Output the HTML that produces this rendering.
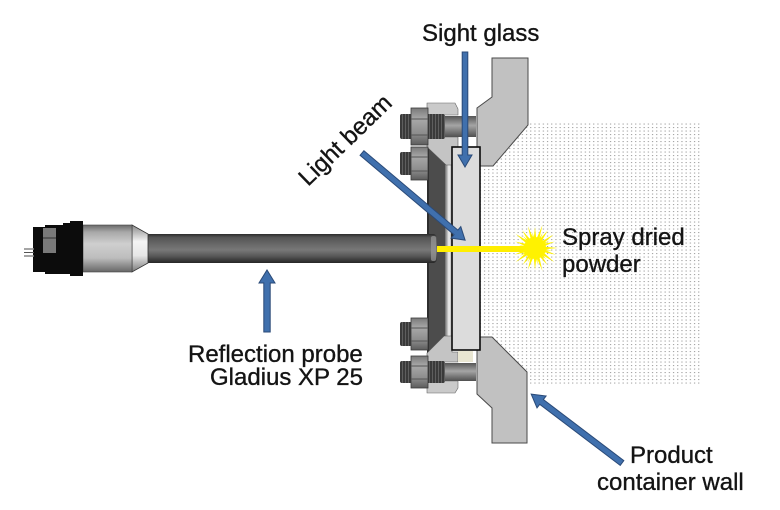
<!DOCTYPE html>
<html><head><meta charset="utf-8"><style>
html,body{margin:0;padding:0;background:#fff;}
svg{display:block;}
text{font-family:"Liberation Sans",sans-serif;font-size:24px;fill:#141414;stroke:#141414;stroke-width:0.35px;}
</style></head><body>
<svg width="780" height="510" viewBox="0 0 780 510" xmlns="http://www.w3.org/2000/svg">
<defs>
<pattern id="dots" x="0" y="0" width="4.2" height="3.5" patternUnits="userSpaceOnUse">
<rect x="1" y="1" width="1.1" height="1.1" fill="#9a9a9a"/>
</pattern>
<pattern id="thr" x="0" y="0" width="3" height="10" patternUnits="userSpaceOnUse">
<rect width="3" height="10" fill="#3a3a3a"/>
<rect width="1" height="10" fill="#5e5e5e"/>
</pattern>
<linearGradient id="rod" x1="0" y1="0" x2="0" y2="1">
<stop offset="0" stop-color="#2c2c2c"/><stop offset="0.12" stop-color="#555"/>
<stop offset="0.4" stop-color="#6c6c6c"/><stop offset="0.55" stop-color="#787878"/>
<stop offset="0.75" stop-color="#5a5a5a"/><stop offset="1" stop-color="#262626"/>
</linearGradient>
<linearGradient id="body" x1="0" y1="0" x2="0" y2="1">
<stop offset="0" stop-color="#6a6a6a"/><stop offset="0.15" stop-color="#a8a8a8"/>
<stop offset="0.4" stop-color="#cfcfcf"/><stop offset="0.7" stop-color="#bdbdbd"/>
<stop offset="1" stop-color="#666"/>
</linearGradient>
<linearGradient id="cone" x1="0" y1="0" x2="0" y2="1">
<stop offset="0" stop-color="#8a8a8a"/><stop offset="0.35" stop-color="#f4f4f4"/>
<stop offset="0.65" stop-color="#e6e6e6"/><stop offset="1" stop-color="#7a7a7a"/>
</linearGradient>
<linearGradient id="shaft" x1="0" y1="0" x2="0" y2="1">
<stop offset="0" stop-color="#555"/><stop offset="0.45" stop-color="#a5a5a5"/>
<stop offset="1" stop-color="#505050"/>
</linearGradient>
<linearGradient id="strip" x1="0" y1="0" x2="1" y2="0">
<stop offset="0" stop-color="#6a6a6a"/><stop offset="0.5" stop-color="#f2f2f2"/>
<stop offset="1" stop-color="#8a8a8a"/>
</linearGradient>
<linearGradient id="nut" x1="0" y1="0" x2="0" y2="1">
<stop offset="0" stop-color="#7a7a7a"/><stop offset="0.3" stop-color="#a8a8a8"/>
<stop offset="0.7" stop-color="#8c8c8c"/><stop offset="1" stop-color="#5c5c5c"/>
</linearGradient>
</defs>

<!-- powder dots region -->
<rect x="480" y="122" width="220" height="263" fill="url(#dots)"/>

<!-- container wall pieces -->
<polygon points="492,58 528,58 528,125 493,166 477,166 477,108 492,97" fill="#c1c1c1" stroke="#4a4a4a" stroke-width="1"/>
<polygon points="477,337 492,337 527,372 527,443 492,443 492,408 477,394" fill="#c1c1c1" stroke="#4a4a4a" stroke-width="1"/>

<!-- probe flange plate -->
<rect x="427" y="140" width="20" height="222" fill="#4c4c4c"/>
<rect x="427" y="140" width="2" height="222" fill="#2e2e2e"/>
<rect x="445" y="160" width="8" height="180" fill="url(#strip)"/>
<!-- top wedge -->
<polygon points="427,137 458,137 458,150 452,150 452,165 446,165 427,147" fill="#c4c4c4" stroke="#555" stroke-width="0.6"/>
<!-- bottom wedge -->
<polygon points="427,362 427,353 444,336 452,336 452,352 458,352 458,362" fill="#c4c4c4" stroke="#555" stroke-width="0.6"/>
<rect x="458" y="351" width="15" height="11" fill="#e9e6d2"/>

<!-- sight glass -->
<rect x="452" y="147" width="28" height="203" fill="#dcdcdc" stroke="#0a0a0a" stroke-width="1.6"/>

<!-- top block -->
<polygon points="427,103 455,103 458,109 458,115 427,115" fill="#cacaca" stroke="#666" stroke-width="0.6"/>
<!-- bottom block -->
<polygon points="427,381 458,381 458,388 455,393 427,393" fill="#cacaca" stroke="#666" stroke-width="0.6"/>

<!-- top bolt -->
<rect x="400" y="114" width="45" height="25" rx="2" fill="url(#thr)"/>
<rect x="445" y="116" width="31" height="21" fill="url(#shaft)"/>
<rect x="411" y="108" width="17" height="37" fill="url(#nut)" stroke="#3a3a3a" stroke-width="0.8"/>
<line x1="411" y1="119" x2="428" y2="119" stroke="#555" stroke-width="1"/>
<line x1="411" y1="135" x2="428" y2="135" stroke="#555" stroke-width="1"/>
<!-- upper short nut -->
<rect x="400" y="152" width="12" height="23" rx="2" fill="url(#thr)"/>
<rect x="411" y="147" width="17" height="33" fill="url(#nut)" stroke="#3a3a3a" stroke-width="0.8"/>
<line x1="411" y1="157" x2="428" y2="157" stroke="#555" stroke-width="1"/>
<line x1="411" y1="171" x2="428" y2="171" stroke="#555" stroke-width="1"/>
<!-- lower short nut -->
<rect x="400" y="322" width="12" height="24" rx="2" fill="url(#thr)"/>
<rect x="411" y="318" width="17" height="32" fill="url(#nut)" stroke="#3a3a3a" stroke-width="0.8"/>
<line x1="411" y1="328" x2="428" y2="328" stroke="#555" stroke-width="1"/>
<line x1="411" y1="341" x2="428" y2="341" stroke="#555" stroke-width="1"/>
<!-- lower bolt -->
<rect x="400" y="361" width="45" height="22" rx="2" fill="url(#thr)"/>
<rect x="445" y="363" width="31" height="18" fill="url(#shaft)"/>
<rect x="411" y="356" width="17" height="32" fill="url(#nut)" stroke="#3a3a3a" stroke-width="0.8"/>
<line x1="411" y1="366" x2="428" y2="366" stroke="#555" stroke-width="1"/>
<line x1="411" y1="379" x2="428" y2="379" stroke="#555" stroke-width="1"/>

<!-- probe -->
<rect x="146" y="234" width="288" height="29" fill="url(#rod)"/>
<rect x="428" y="234" width="9" height="29" rx="4" fill="url(#rod)"/>
<rect x="431" y="236" width="5" height="25" rx="2" fill="#9a9a9a" opacity="0.7"/>
<polygon points="132,225 148,234 148,263 132,272" fill="url(#cone)" stroke="#333" stroke-width="0.8"/>
<rect x="83" y="225" width="49" height="47" fill="url(#body)" stroke="#444" stroke-width="0.6"/>
<!-- connector -->
<polygon points="33,227 45,227 45,225 63,225 63,223 70,223 70,221 83,221 83,276 70,276 70,274 45,274 45,272 33,272" fill="#0c0c0c"/>
<rect x="43" y="228" width="13" height="25" fill="#7a7a7a"/>
<line x1="43" y1="238" x2="56" y2="238" stroke="#333" stroke-width="1"/>
<line x1="24" y1="249" x2="34" y2="249" stroke="#888" stroke-width="1.5"/>
<line x1="24" y1="256" x2="34" y2="256" stroke="#888" stroke-width="1.5"/>
<line x1="24" y1="252.5" x2="34" y2="252.5" stroke="#555" stroke-width="1"/>

<!-- light beam -->
<rect x="437" y="246" width="88" height="6" fill="#ffee00"/>
<g transform="translate(535,248)" fill="#fff200">
<circle r="11"/>
<polygon points="0,-2.3 23,0 0,2.3" transform="rotate(0)"/>
<polygon points="0,-2.3 22,0 0,2.3" transform="rotate(18)"/>
<polygon points="0,-2.3 24,0 0,2.3" transform="rotate(36)"/>
<polygon points="0,-2.3 21,0 0,2.3" transform="rotate(54)"/>
<polygon points="0,-2.3 24,0 0,2.3" transform="rotate(72)"/>
<polygon points="0,-2.3 22,0 0,2.3" transform="rotate(90)"/>
<polygon points="0,-2.3 23,0 0,2.3" transform="rotate(108)"/>
<polygon points="0,-2.3 21,0 0,2.3" transform="rotate(126)"/>
<polygon points="0,-2.3 24,0 0,2.3" transform="rotate(144)"/>
<polygon points="0,-2.3 22,0 0,2.3" transform="rotate(162)"/>
<polygon points="0,-2.3 23,0 0,2.3" transform="rotate(180)"/>
<polygon points="0,-2.3 21,0 0,2.3" transform="rotate(198)"/>
<polygon points="0,-2.3 24,0 0,2.3" transform="rotate(216)"/>
<polygon points="0,-2.3 22,0 0,2.3" transform="rotate(234)"/>
<polygon points="0,-2.3 23,0 0,2.3" transform="rotate(252)"/>
<polygon points="0,-2.3 21,0 0,2.3" transform="rotate(270)"/>
<polygon points="0,-2.3 24,0 0,2.3" transform="rotate(288)"/>
<polygon points="0,-2.3 22,0 0,2.3" transform="rotate(306)"/>
<polygon points="0,-2.3 23,0 0,2.3" transform="rotate(324)"/>
<polygon points="0,-2.3 21,0 0,2.3" transform="rotate(342)"/>
<polygon points="0,-2 17,0 0,2" transform="rotate(9)"/>
<polygon points="0,-2 16,0 0,2" transform="rotate(45)"/>
<polygon points="0,-2 17,0 0,2" transform="rotate(81)"/>
<polygon points="0,-2 16,0 0,2" transform="rotate(117)"/>
<polygon points="0,-2 17,0 0,2" transform="rotate(153)"/>
<polygon points="0,-2 16,0 0,2" transform="rotate(189)"/>
<polygon points="0,-2 17,0 0,2" transform="rotate(225)"/>
<polygon points="0,-2 16,0 0,2" transform="rotate(261)"/>
<polygon points="0,-2 17,0 0,2" transform="rotate(297)"/>
<polygon points="0,-2 16,0 0,2" transform="rotate(333)"/>
</g>

<!-- arrows -->
<g fill="#4070ad" stroke="#2a4a78" stroke-width="1">
<polygon transform="translate(465,52) rotate(90)" points="0,-2.8 103,-2.8 103,-7 115,0 103,7 103,2.8 0,2.8"/>
<polygon transform="translate(362,153) rotate(40.2)" points="0,-3 123,-3 123,-7.5 135,0 123,7.5 123,3 0,3"/>
<polygon transform="translate(267,332) rotate(-90)" points="0,-3.2 49,-3.2 49,-8 62,0 49,8 49,3.2 0,3.2"/>
<polygon transform="translate(622,463) rotate(217.2)" points="0,-3 101,-3 101,-7.5 114,0 101,7.5 101,3 0,3"/>
</g>

<!-- labels -->
<text x="422" y="41">Sight glass</text>
<text x="0" y="0" transform="translate(308,187) rotate(-44)">Light beam</text>
<text x="562" y="245">Spray dried</text>
<text x="562" y="272">powder</text>
<text x="188" y="362">Reflection probe</text>
<text x="210" y="385">Gladius XP 25</text>
<text x="630" y="463">Product</text>
<text x="597" y="490">container wall</text>
</svg>
</body></html>
